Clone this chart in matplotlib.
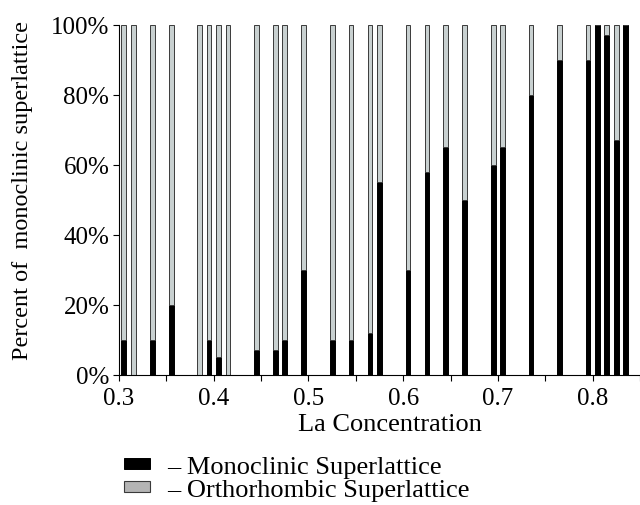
import matplotlib
matplotlib.use("Agg")
import matplotlib.pyplot as plt
from matplotlib.ticker import MultipleLocator, PercentFormatter

plt.rcParams['font.family'] = ['Liberation Serif', 'DejaVu Serif']

# La concentration of each sample and percent monoclinic superlattice
la_conc = [0.305, 0.315, 0.335, 0.355, 0.385, 0.395, 0.405, 0.415, 0.445, 0.465,
           0.475, 0.495, 0.525, 0.545, 0.565, 0.575, 0.605, 0.625, 0.645, 0.665,
           0.695, 0.705, 0.735, 0.765, 0.795, 0.805, 0.815, 0.825, 0.835]
monoclinic = [10, 0, 10, 20, 0, 10, 5, 0, 7, 7,
              10, 30, 10, 10, 12, 55, 30, 58, 65, 50,
              60, 65, 80, 90, 90, 100, 97, 67, 100]
orthorhombic = [100 - m for m in monoclinic]

fig = plt.figure(figsize=(6.4, 5.06), dpi=100)
ax = fig.add_axes([0.186, 0.257, 0.814, 0.692])

w = 0.005
b1 = ax.bar(la_conc, monoclinic, width=w, color='black', edgecolor='black', linewidth=0.7)
b2 = ax.bar(la_conc, orthorhombic, width=w, bottom=monoclinic, color='#c8d0d0',
            edgecolor='#3a3a3a', linewidth=0.7)

ax.set_xlim(0.3, 0.85)
ax.set_ylim(0, 100)
ax.spines['top'].set_visible(False)
ax.spines['right'].set_visible(False)
ax.xaxis.set_major_locator(MultipleLocator(0.1))
ax.xaxis.set_minor_locator(MultipleLocator(0.05))
ax.yaxis.set_major_locator(MultipleLocator(20))
ax.yaxis.set_major_formatter(PercentFormatter(100, decimals=0))
ax.tick_params(axis='both', which='both', direction='out', length=4, width=0.8,
               labelsize=18)
ax.tick_params(axis='x', pad=5)
ax.tick_params(axis='y', pad=3)
ax.set_xticks([0.3, 0.4, 0.5, 0.6, 0.7, 0.8])
ax.set_xticklabels(['0.3', '0.4', '0.5', '0.6', '0.7', '0.8'])

ax.set_xlabel('La Concentration', fontsize=19)
ax.xaxis.set_label_coords(0.52, -0.108)
ax.set_ylabel('Percent of  monoclinic superlattice', fontsize=17.5)
ax.yaxis.set_label_coords(-0.165, 0.53)

# legend handles: grey patch is a bit darker than the bars
h2 = plt.Rectangle((0, 0), 1, 1, facecolor='#b4b4b4', edgecolor='#3a3a3a', linewidth=0.8)
fig.legend([b1, h2], ['– Monoclinic Superlattice', '– Orthorhombic Superlattice'],
           loc='upper left', bbox_to_anchor=(0.173, 0.123), frameon=False,
           fontsize=19, handlelength=1.0, handleheight=0.25, handletextpad=0.65,
           labelspacing=0.05, borderpad=0)

fig.savefig('out.png', dpi=100)
